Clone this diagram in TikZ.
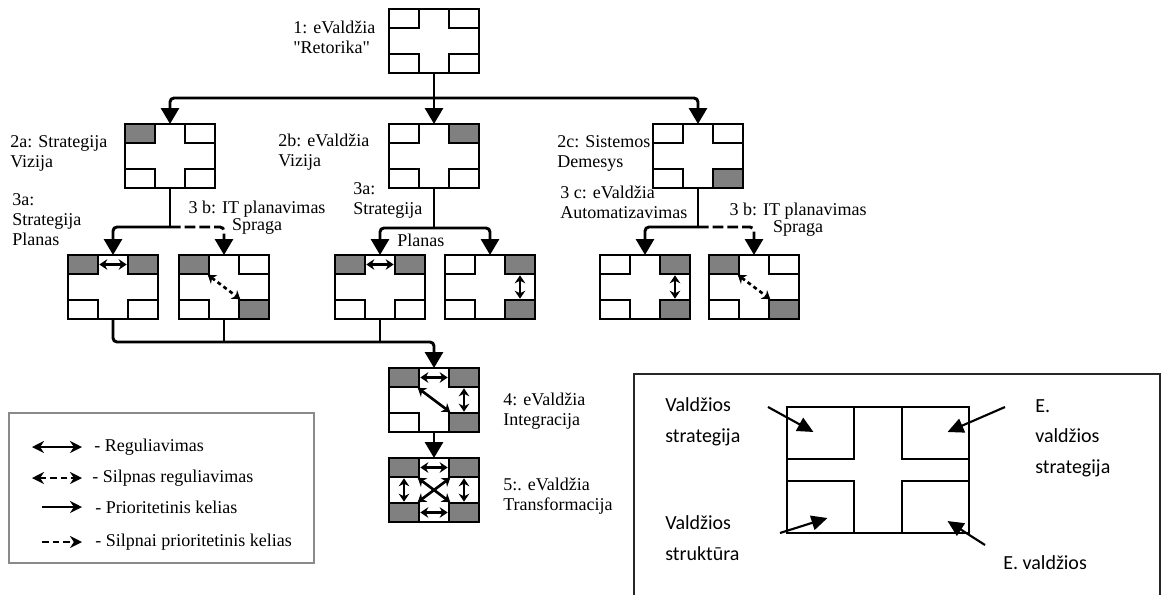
\documentclass[tikz,border=0pt]{standalone}
\usepackage{fontspec}
\setmainfont{Liberation Serif}
\newfontfamily\keyfont{Carlito}
\usetikzlibrary{arrows.meta,calc}

\definecolor{boxgray}{RGB}{128,128,128}
\definecolor{framegray}{RGB}{138,138,138}

\tikzstyle{cross}=[draw, fill=white, line width=2.2pt, minimum width=67.5pt, minimum height=48pt, inner sep=0pt, outer sep=0pt]
\tikzstyle{corner}=[draw, line width=2.2pt, minimum width=22.5pt, minimum height=14.25pt, inner sep=0pt, outer sep=0pt]
\tikzstyle{plain}=[fill=white]
\tikzstyle{dark}=[fill=boxgray]
\tikzstyle{prio}=[draw, line width=2.2pt, -{Triangle[width=13.5pt,length=12pt]}]
\tikzstyle{weakprio}=[prio, dash pattern=on 8pt off 3pt]
\tikzstyle{reg}=[draw, line width=2pt, shorten <=1pt, shorten >=1pt, {Stealth[length=6pt,width=8pt]}-{Stealth[length=6pt,width=8pt]}]
\tikzstyle{weakreg}=[reg, dash pattern=on 3pt off 2.5pt]

% #1 name, #2 centre, #3-#6 corners: tl tr bl br
\newcommand{\crossbox}[6]{%
  \node[cross] (#1) at (#2) {};
  \node[corner, #3, anchor=north west] (#1-tl) at (#1.north west) {};
  \node[corner, #4, anchor=north east] (#1-tr) at (#1.north east) {};
  \node[corner, #5, anchor=south west] (#1-bl) at (#1.south west) {};
  \node[corner, #6, anchor=south east] (#1-br) at (#1.south east) {};
}

\begin{document}
\begin{tikzpicture}[x=0.75pt, y=-0.75pt]
    \useasboundingbox (0,0) rectangle (1165,594);
    \begin{scope}
        \crossbox{1}{434,41}{plain}{plain}{plain}{plain}
        \crossbox{2a}{170,156}{dark}{plain}{plain}{plain}
        \crossbox{2b}{434,156}{plain}{dark}{plain}{plain}
        \crossbox{2c}{698,156}{plain}{plain}{plain}{dark}
        \crossbox{3a1}{113,287}{dark}{dark}{plain}{plain}
        \crossbox{3b1}{224,287}{dark}{plain}{plain}{dark}
        \crossbox{3a2}{380,287}{dark}{dark}{plain}{plain}
        \crossbox{3b2}{490,287}{plain}{dark}{plain}{dark}
        \crossbox{3c1}{645,287}{plain}{dark}{plain}{dark}
        \crossbox{3c2}{754,287}{dark}{plain}{plain}{dark}
        \crossbox{4}{434,400}{dark}{dark}{plain}{dark}
        \crossbox{5}{434,490}{dark}{dark}{dark}{dark}
    \end{scope}
    \begin{scope}
        \tikzstyle{every node}=[font=\fontsize{13.5}{15}\selectfont, align=left, anchor=west, inner sep=0pt]
        \node (t1) at (293,37) {1: eValdžia\\\textquotedbl Retorika\textquotedbl};
        \node (t2a) at (10,153) {2a: Strategija\\Vizija};
        \node (t3a1) at (12,220) {3a:\\Strategija\\Planas};
        \node[align=center, anchor=center] (t3b1) at (257,218) {3 b: IT planavimas\\[-2pt]Spraga};
        \node (t2b) at (278,152) {2b: eValdžia\\Vizija};
        \node (t3a2) at (353,200) {3a:\\Strategija};
        \node (tpl) at (397,240) {Planas};
        \node (t2c) at (557,153) {2c: Sistemos\\Demesys};
        \node (t3c) at (560,202) {3 c: eValdžia\\Automatizavimas};
        \node[align=center, anchor=center] (t3b2) at (798,220) {3 b: IT planavimas\\[-2pt]Spraga};
        \node (t4) at (503,411) {4: eValdžia\\Integracija};
        \node (t5) at (503,496) {5:. eValdžia\\Transformacija};
    \end{scope}
    % paths between levels
    \coordinate (bus) at (434,98);
    \coordinate (fa) at (170,227);
    \coordinate (fb) at (434,228);
    \coordinate (fc) at (698,227);
    \coordinate (jn) at (434,342);
    \draw[prio] (1) -- (2b);
    \draw[prio, rounded corners=3pt] (bus) -| (2a);
    \draw[prio, rounded corners=3pt] (bus) -| (2c);
    \draw[line width=2.2pt] (2a) -- (fa);
    \draw[prio, rounded corners=3pt] (fa) -| (3a1);
    \draw[weakprio, rounded corners=3pt] (fa) -| (3b1);
    \draw[line width=2.2pt] (2b) -- (fb);
    \draw[prio, rounded corners=3pt] (fb) -| (3a2);
    \draw[prio, rounded corners=3pt] (fb) -| (3b2);
    \draw[line width=2.2pt] (2c) -- (fc);
    \draw[prio, rounded corners=3pt] (fc) -| (3c1);
    \draw[weakprio, rounded corners=3pt] (fc) -| (3c2);
    \draw[prio, rounded corners=3pt] (3a1) |- (jn) -- (4);
    \draw[line width=2.2pt] (3b1) -- (3b1 |- jn);
    \draw[line width=2.2pt] (3a2) -- (3a2 |- jn);
    \draw[prio] (4) -- (5);
    % links inside the boxes
    \path
    (3a1-tl) edge[reg] (3a1-tr)
    (3b1-tl) edge[weakreg] (3b1-br)
    (3a2-tl) edge[reg] (3a2-tr)
    (3b2-tr) edge[reg] (3b2-br)
    (3c1-tr) edge[reg] (3c1-br)
    (3c2-tl) edge[weakreg] (3c2-br)
    (4-tl) edge[reg] (4-tr)
    (4-tr) edge[reg] (4-br)
    (4-tl) edge[reg] (4-br)
    (5-tl) edge[reg] (5-tr)
    (5-bl) edge[reg] (5-br)
    (5-tl) edge[reg] (5-bl)
    (5-tr) edge[reg] (5-br)
    (5-tl) edge[reg] (5-br)
    (5-tr) edge[reg] (5-bl);
    % legend
    \begin{scope}
        \tikzstyle{every node}=[font=\fontsize{13.5}{15}\selectfont, anchor=west, inner sep=0pt]
        \draw[framegray, line width=2.2pt] (9,413) rectangle (314,563);
        \node (l1) at (94,447) {- Reguliavimas};
        \node (l2) at (92,478) {- Silpnas reguliavimas};
        \node (l3) at (95,507) {- Prioritetinis kelias};
        \node (l4) at (95,542) {- Silpnai prioritetinis kelias};
        \coordinate (r1) at (32,447);
        \coordinate (r2) at (32,478);
        \coordinate (r3) at (42,507);
        \coordinate (r4) at (42,542);
        \draw[line width=1.8pt, {Stealth[length=9pt,width=9pt]}-{Stealth[length=9pt,width=9pt]}] (r1) -- ++(50,0);
        \draw[line width=1.8pt, dash pattern=on 5pt off 3pt, {Stealth[length=9pt,width=9pt]}-{Stealth[length=9pt,width=9pt]}] (r2) -- ++(50,0);
        \draw[line width=1.8pt, -{Stealth[length=9pt,width=9pt]}] (r3) -- ++(40,0);
        \draw[line width=1.8pt, dash pattern=on 5pt off 3pt, -{Stealth[length=9pt,width=9pt]}] (r4) -- ++(40,0);
    \end{scope}
    % key to the corners
    \begin{scope}
        \tikzstyle{every node}=[draw, line width=1.1pt, fill=white, inner sep=0pt, outer sep=0pt]
        \draw[black!85, line width=1.1pt] (634,600) -- (634,374) -- (1160,374) -- (1160,600);
        \node[minimum width=136.5pt, minimum height=94.5pt] (k) at (878,470) {};
        \node[minimum width=50.25pt, minimum height=39pt, anchor=north west] (k-tl) at (k.north west) {};
        \node[minimum width=50.25pt, minimum height=39pt, anchor=north east] (k-tr) at (k.north east) {};
        \node[minimum width=50.25pt, minimum height=39pt, anchor=south west] (k-bl) at (k.south west) {};
        \node[minimum width=50.25pt, minimum height=39pt, anchor=south east] (k-br) at (k.south east) {};
    \end{scope}
    \begin{scope}
        \tikzstyle{every node}=[font=\keyfont\fontsize{15}{23}\selectfont, align=left, anchor=west, inner sep=0pt]
        \node (kt1) at (665,422) {Valdžios\\strategija};
        \node (kt2) at (1035,438) {E.\\valdžios\\strategija};
        \node (kt3) at (665,538) {Valdžios\\struktūra};
        \node (kt4) at (1003,563) {E. valdžios};
        \tikzstyle{every edge}=[draw, line width=1.6pt, -{Triangle[length=12pt,width=11pt]}]
        \coordinate (p1) at (768,407);
        \coordinate (p2) at (1005,407);
        \coordinate (p3) at (780,533);
        \coordinate (p4) at (985,545);
        \path
        (p1) edge ($(k-tl.center)+(-7,-1)$)
        (p2) edge ($(k-tr.center)+(12,-1)$)
        (p3) edge ($(k-bl.center)+(7,11)$)
        (p4) edge ($(k-br.center)+(12,14)$);
    \end{scope}
\end{tikzpicture}
\end{document}
